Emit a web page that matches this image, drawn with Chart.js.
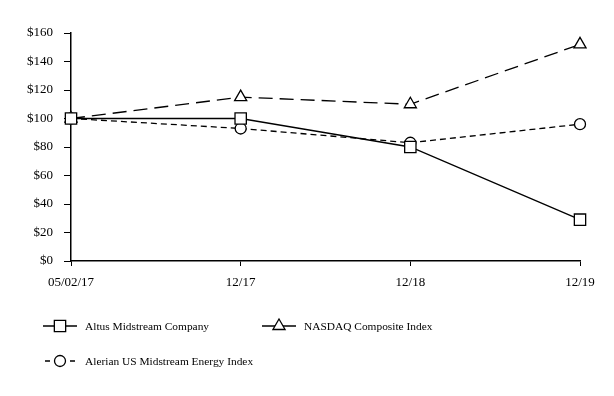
<!DOCTYPE html>
<html>
<head>
<meta charset="utf-8">
<script src="https://cdn.jsdelivr.net/npm/chart.js@4/dist/chart.umd.min.js"></script>
<style>
  html, body { margin: 0; padding: 0; background: #fff; }
  #wrap { width: 614px; height: 396px; }
</style>
</head>
<body>
<div id="wrap"><canvas id="perfChart" width="614" height="396"></canvas></div>
<script>
const categories = ["05/02/17", "12/17", "12/18", "12/19"];
const altus = [100, 100, 80, 29];
const nasdaq = [100, 115, 110, 152];
const alerian = [100, 93, 83, 96];
const yTicks = [0, 20, 40, 60, 80, 100, 120, 140, 160];

const FONT = "'Liberation Serif', 'Times New Roman', serif";

// legend drawn on the canvas in the original two-column layout
const legendPlugin = {
  id: "customLegend",
  afterDraw(chart) {
    const ctx = chart.ctx;
    const slots = [
      { ds: 0, x: 43, y: 326 },
      { ds: 1, x: 262, y: 326 },
      { ds: 2, x: 43, y: 361 }
    ];
    ctx.save();
    ctx.strokeStyle = "#000";
    ctx.lineWidth = 1.3;
    slots.forEach(s => {
      const ds = chart.data.datasets[s.ds];
      const w = 34;
      const cx = s.x + w / 2;
      ctx.beginPath();
      if (s.ds === 2) {
        ctx.moveTo(s.x + 2, s.y); ctx.lineTo(s.x + 7, s.y);
        ctx.moveTo(s.x + w - 7, s.y); ctx.lineTo(s.x + w - 2, s.y);
      } else {
        ctx.moveTo(s.x, s.y); ctx.lineTo(s.x + w, s.y);
      }
      ctx.stroke();
      ctx.fillStyle = "#fff";
      Chart.helpers.drawPoint(ctx, {
        pointStyle: ds.pointStyle,
        radius: ds.pointRadius,
        rotation: 0,
        borderWidth: 1.3
      }, cx, s.y);
      ctx.fillStyle = "#000";
      ctx.font = "11.4px " + FONT;
      ctx.textBaseline = "middle";
      ctx.textAlign = "left";
      ctx.fillText(ds.label, s.x + w + 8, s.y + 1);
    });
    ctx.restore();
  }
};

const common = {
  borderColor: "#000",
  borderWidth: 1.3,
  pointBackgroundColor: "#fff",
  pointBorderColor: "#000",
  pointBorderWidth: 1.3,
  tension: 0,
  fill: false
};

new Chart(document.getElementById("perfChart"), {
  type: "line",
  data: {
    labels: categories,
    datasets: [
      Object.assign({ label: "Altus Midstream Company", data: altus, pointStyle: "rect", pointRadius: 8, borderDash: [] }, common),
      Object.assign({ label: "NASDAQ Composite Index", data: nasdaq, pointStyle: "triangle", pointRadius: 7, borderDash: [14, 7] }, common),
      Object.assign({ label: "Alerian US Midstream Energy Index", data: alerian, pointStyle: "circle", pointRadius: 5.5, borderDash: [6, 4] }, common)
    ]
  },
  options: {
    responsive: false,
    animation: false,
    layout: { padding: { left: 0, top: 33, right: 34, bottom: 105 } },
    plugins: {
      legend: { display: false },
      tooltip: { enabled: false }
    },
    scales: {
      x: {
        offset: false,
        grid: { drawOnChartArea: false, drawTicks: true, tickLength: 5, color: "#000" },
        border: { display: true, color: "#000", width: 1.5 },
        ticks: { color: "#000", font: { family: FONT, size: 13 }, padding: 9, maxRotation: 0 },
        afterFit(scale) { scale.height = 30; }
      },
      y: {
        min: 0,
        max: 160,
        afterBuildTicks(scale) { scale.ticks = yTicks.map(v => ({ value: v })); },
        grid: { drawOnChartArea: false, drawTicks: true, tickLength: 7, color: "#000" },
        border: { display: true, color: "#000", width: 1.5 },
        ticks: { color: "#000", font: { family: FONT, size: 13 }, padding: 11, callback: v => "$" + v },
        afterFit(scale) { scale.width = 71; }
      }
    }
  },
  plugins: [legendPlugin]
});
</script>
</body>
</html>
